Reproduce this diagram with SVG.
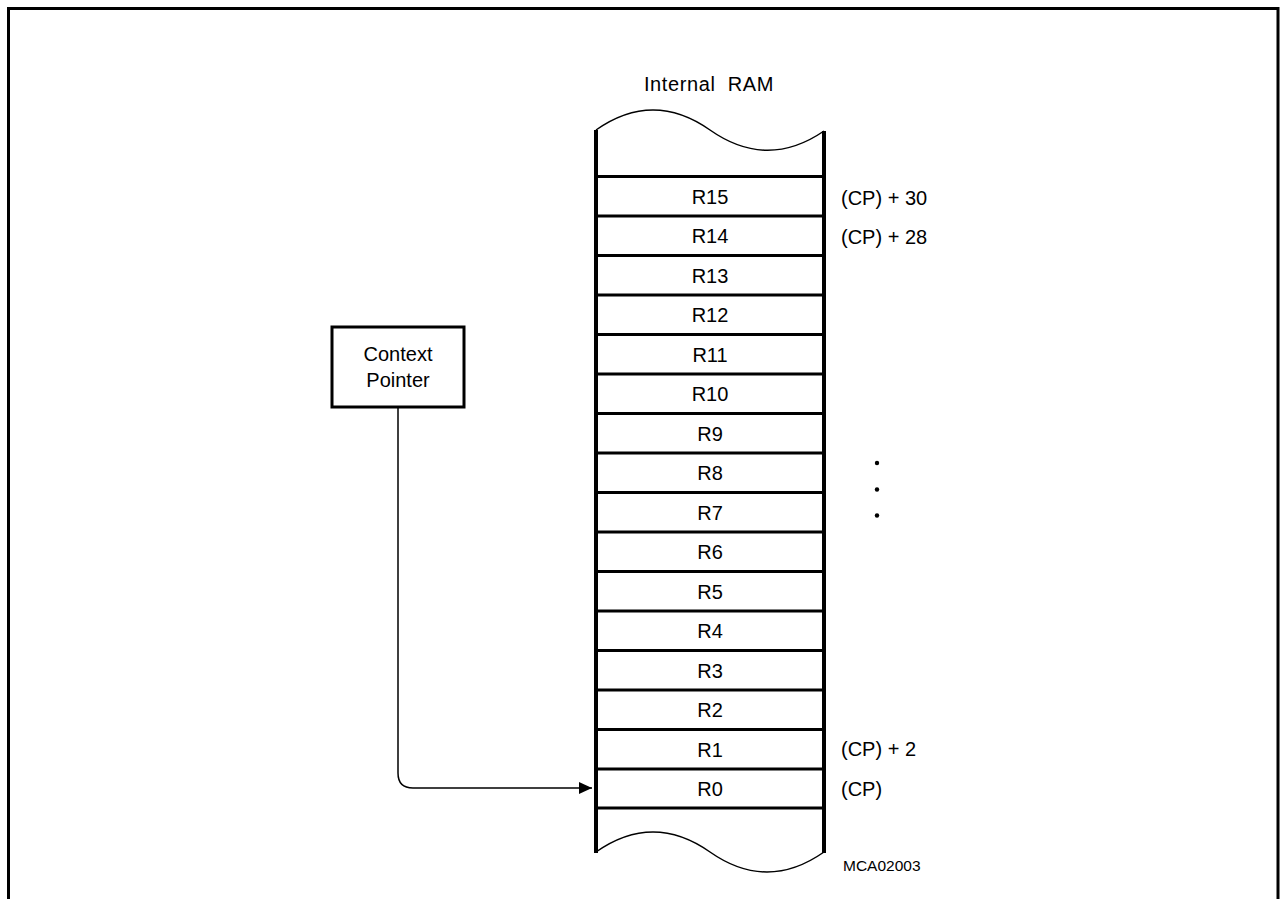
<svg xmlns="http://www.w3.org/2000/svg" width="1280" height="899" viewBox="0 0 1280 899">
<style>
text{font-family:"Liberation Sans","DejaVu Sans",sans-serif;fill:#000}
.reg{font-size:20px;text-anchor:middle}
.lbl{font-size:20px}
.row{stroke:#000;stroke-width:3}
.wave{fill:none;stroke:#000;stroke-width:1.5}
</style>
<defs>
<marker id="arr" markerWidth="14" markerHeight="12" refX="13" refY="6" orient="auto" markerUnits="userSpaceOnUse">
<path d="M0,0 L13,6 L0,12 Z" fill="#000"/>
</marker>
</defs>
<rect width="1280" height="899" fill="#fff"/>
<path d="M8.5,899 V8.5 H1278 V899" fill="none" stroke="#000" stroke-width="3"/>
<g id="ram">
<text x="709" y="91" class="reg" font-size="21" letter-spacing="0.6" xml:space="preserve">Internal  RAM</text>
<path class="wave" d="M596,130 Q653,90 710,130 T824,131"/>
<path class="wave" d="M596,852 Q653,812 710,852 T824,852"/>
<line x1="596" y1="130" x2="596" y2="853" stroke="#000" stroke-width="4"/>
<line x1="824" y1="131" x2="824" y2="853" stroke="#000" stroke-width="4"/>
<g class="row">
<line x1="596" y1="176.5" x2="824" y2="176.5"/>
<line x1="596" y1="216" x2="824" y2="216"/>
<line x1="596" y1="255.5" x2="824" y2="255.5"/>
<line x1="596" y1="295" x2="824" y2="295"/>
<line x1="596" y1="334.5" x2="824" y2="334.5"/>
<line x1="596" y1="374" x2="824" y2="374"/>
<line x1="596" y1="413.5" x2="824" y2="413.5"/>
<line x1="596" y1="453" x2="824" y2="453"/>
<line x1="596" y1="492.5" x2="824" y2="492.5"/>
<line x1="596" y1="532" x2="824" y2="532"/>
<line x1="596" y1="571.5" x2="824" y2="571.5"/>
<line x1="596" y1="611" x2="824" y2="611"/>
<line x1="596" y1="650.5" x2="824" y2="650.5"/>
<line x1="596" y1="690" x2="824" y2="690"/>
<line x1="596" y1="729.5" x2="824" y2="729.5"/>
<line x1="596" y1="769" x2="824" y2="769"/>
<line x1="596" y1="808" x2="824" y2="808"/>
</g>
<text class="reg" x="710" y="204">R15</text>
<text class="reg" x="710" y="243">R14</text>
<text class="reg" x="710" y="283">R13</text>
<text class="reg" x="710" y="322">R12</text>
<text class="reg" x="710" y="362">R11</text>
<text class="reg" x="710" y="401">R10</text>
<text class="reg" x="710" y="441">R9</text>
<text class="reg" x="710" y="480">R8</text>
<text class="reg" x="710" y="520">R7</text>
<text class="reg" x="710" y="559">R6</text>
<text class="reg" x="710" y="599">R5</text>
<text class="reg" x="710" y="638">R4</text>
<text class="reg" x="710" y="678">R3</text>
<text class="reg" x="710" y="717">R2</text>
<text class="reg" x="710" y="757">R1</text>
<text class="reg" x="710" y="796">R0</text>
</g>
<g id="labels">
<text class="lbl" x="841" y="204.5">(CP) + 30</text>
<text class="lbl" x="841" y="244">(CP) + 28</text>
<text class="lbl" x="841" y="756">(CP) + 2</text>
<text class="lbl" x="841" y="796">(CP)</text>
<circle cx="877" cy="463" r="2.2"/>
<circle cx="877" cy="489.5" r="2.2"/>
<circle cx="877" cy="515.5" r="2.2"/>
<text x="843" y="870.5" font-size="15.5">MCA02003</text>
</g>
<g id="context-pointer">
<rect x="332" y="327" width="132" height="80" fill="#fff" stroke="#000" stroke-width="3"/>
<text class="reg" x="398" y="361">Context</text>
<text class="reg" x="398" y="387">Pointer</text>
</g>
<g id="connectors">
<path d="M398,408 V773 Q398,788 413,788 H592" fill="none" stroke="#000" stroke-width="1.5" marker-end="url(#arr)"/>
</g>
</svg>
